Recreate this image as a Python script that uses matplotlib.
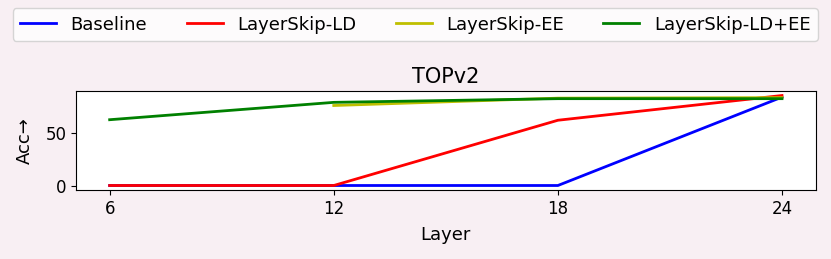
import matplotlib
matplotlib.use("Agg")
import matplotlib.pyplot as plt

layers = [6, 12, 18, 24]
baseline = [0, 0, 0, 84]
ld = [0, 0, 62, 85.5]
ee_layers = [12, 18, 24]
ee = [76, 83, 83.5]
ldee = [62.5, 79, 82.5, 82.5]

fig = plt.figure(figsize=(8.31, 2.59), dpi=100)
bg = "#f8eff3"
fig.patch.set_facecolor(bg)
ax = fig.add_axes([0.0915, 0.2664, 0.890, 0.3822])
ax.plot(layers, baseline, color="blue", lw=2, label="Baseline")
ax.plot(layers, ld, color="red", lw=2, label="LayerSkip-LD")
ax.plot(ee_layers, ee, color="y", lw=2, label="LayerSkip-EE")
ax.plot(layers, ldee, color="green", lw=2, label="LayerSkip-LD+EE")
ax.set_xticks(layers)
ax.set_yticks([0, 50])
ax.tick_params(labelsize=12)
ax.set_xlabel("Layer", fontsize=13, labelpad=6)
ax.set_ylabel("Acc→", fontsize=13, labelpad=8)
ax.set_title("TOPv2", fontsize=15)
fig.legend(loc="upper center", ncol=4,
           bbox_to_anchor=(0.0153, 0.968, 0.9687, 0.0),
           mode="expand", borderaxespad=0, fontsize=13, frameon=True)
fig.savefig("out.png", dpi=100, facecolor=bg)
